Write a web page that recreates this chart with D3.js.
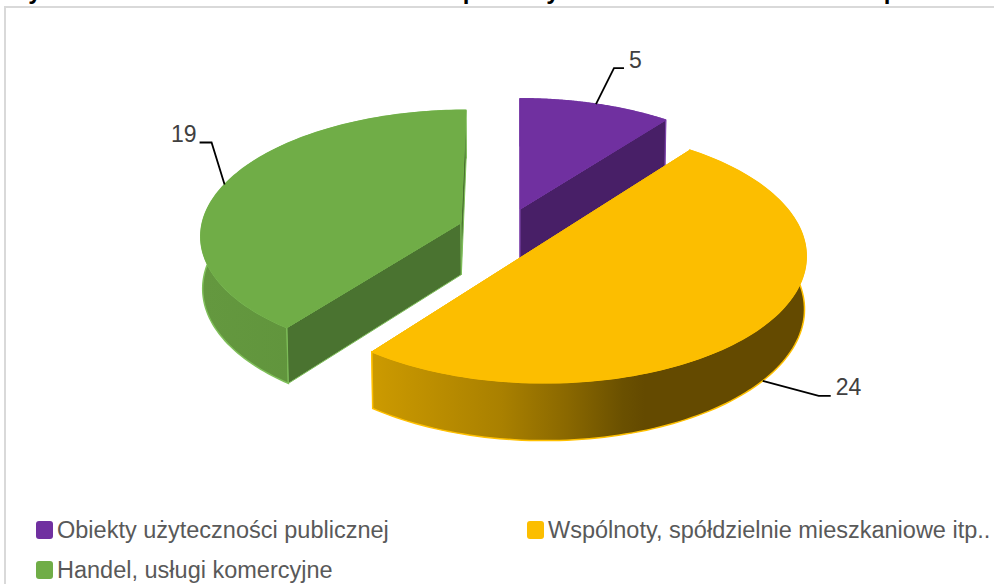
<!DOCTYPE html>
<html>
<head>
<meta charset="utf-8">
<script src="https://cdn.jsdelivr.net/npm/d3@7"></script>
<style>
  html, body { margin: 0; padding: 0; background: #fff; overflow: hidden; }
  text { font-family: "Liberation Sans", Arial, sans-serif; }
</style>
</head>
<body>
<div id="chart"></div>
<script>
// DATA
const categories = [
  "Obiekty użyteczności publicznej",
  "Wspólnoty, spółdzielnie mieszkaniowe itp..",
  "Handel, usługi komercyjne",
];
const values = [5, 24, 19];
const titleLetters = ["y", "p", "y", "p"];

// COLORS
const topColors = ["#7030A0", "#FCBE00", "#70AD47"];
const faceColors = ["#481F67", "#8F6C00", "#4A7330"];
const edgeColors = ["#7E45AC", "#FFC000", "#7FBF5A"];
const wallStops = [
  [["0%", "#481F67"], ["100%", "#481F67"]],
  [["0%", "#CC9A00"], ["30%", "#A98000"], ["45%", "#8A6800"], ["58%", "#6A5000"], ["63%", "#644A00"], ["100%", "#644A00"]],
  [["0%", "#64983F"], ["100%", "#5B8F38"]],
];

// LAYOUT
const WIDTH = 994;
const HEIGHT = 584;
const CENTER = { X: 505, Y: 230 };
const RADIUS = { X: 260, Y: 124 };
const VANISH_X = 520;
const PERSPECTIVE = 0.09;
const DEPTH = 52;
const TAPER = 0.006;
const EXPLODE = 0.18;
const labelAnchorDepth = [0, 1, 0];
const labelElbows = [[18, -36, 28], [56, 15, 68], [-13, -42, -25]];
const labelShift = [[5, -8, "start"], [5, -9, "start"], [-3, -9, "end"]];
const titleX = [35, 470, 553, 891];
const legendX = [36, 527, 36];
const legendY = [530, 530, 570];

const svg = d3
  .select("#chart")
  .append("svg")
  .attr("width", WIDTH)
  .attr("height", HEIGHT);

// SCALES (disc coordinates -1..1 to pixels)
const x = d3.scaleLinear().domain([-1, 1]).range([CENTER.X - RADIUS.X, CENTER.X + RADIUS.X]);
const y = d3.scaleLinear().domain([-1, 1]).range([CENTER.Y + RADIUS.Y, CENTER.Y - RADIUS.Y]);

function project(dx, dy, depth) {
  const w = 1 + PERSPECTIVE * dy;
  return [
    VANISH_X + ((x(dx) - VANISH_X) / w) * (1 - TAPER * depth),
    CENTER.Y + (y(dy) - CENTER.Y + depth * DEPTH) / w,
  ];
}

const line = d3.line();
const slices = d3.pie().sort(null).value((d) => d)(values);

function rimPoint(slice, angle, depth, radius = 1) {
  const mid = (slice.startAngle + slice.endAngle) / 2;
  return project(
    EXPLODE * Math.sin(mid) + radius * Math.sin(angle),
    EXPLODE * Math.cos(mid) + radius * Math.cos(angle),
    depth
  );
}

function rim(slice, depth) {
  return d3
    .range(0, 121)
    .map((i) => slice.startAngle + ((slice.endAngle - slice.startAngle) * i) / 120)
    .map((a) => rimPoint(slice, a, depth));
}

// FRAME
svg
  .append("path")
  .attr("d", line([[5, HEIGHT], [5, 7], [WIDTH, 7]]))
  .attr("fill", "none")
  .attr("stroke", "#D9D9D9")
  .attr("stroke-width", 2);

// TITLE (cut off by the top of the picture, only the descenders show)
svg
  .selectAll(".titleLetter")
  .data(titleLetters)
  .enter()
  .append("text")
  .attr("class", "titleLetter")
  .attr("x", (d, i) => titleX[i])
  .attr("y", -1)
  .attr("text-anchor", "middle")
  .attr("font-size", "24px")
  .attr("font-weight", "bold")
  .attr("fill", "#000")
  .text((d) => d);

// GRADIENTS
const defs = svg.append("defs");
slices.forEach((slice, i) => {
  const xs = rim(slice, 1).map((p) => p[0]);
  const gradient = defs
    .append("linearGradient")
    .attr("id", `wall${i}`)
    .attr("gradientUnits", "userSpaceOnUse")
    .attr("x1", d3.min(xs))
    .attr("x2", d3.max(xs))
    .attr("y1", 0)
    .attr("y2", 0);
  gradient
    .selectAll("stop")
    .data(wallStops[i])
    .enter()
    .append("stop")
    .attr("offset", (d) => d[0])
    .attr("stop-color", (d) => d[1]);
});

// SLICES (back to front)
[0, 2, 1].forEach((i) => {
  const slice = slices[i];
  const g = svg.append("g").attr("class", "slice");
  const hub = rimPoint(slice, 0, 0, 0);
  const hubLow = rimPoint(slice, 0, 1, 0);
  const top = rim(slice, 0);
  const low = rim(slice, 1);

  const drawFaces = () => {
    [0, 120].forEach((n) => {
      g.append("path")
        .attr("d", line([hub, top[n], low[n], hubLow]) + "Z")
        .attr("fill", faceColors[i])
        .attr("stroke", edgeColors[i])
        .attr("stroke-width", 1);
    });
  };

  // the yellow slice faces away, its cut faces stay behind the wall
  if (i === 1) drawFaces();

  // outer wall
  g.append("path")
    .attr("d", line(top.concat(low.slice().reverse())) + "Z")
    .attr("fill", `url(#wall${i})`)
    .attr("stroke", edgeColors[i])
    .attr("stroke-width", 1.5);

  if (i !== 1) drawFaces();

  // top face
  g.append("path")
    .attr("d", line([hub].concat(top)) + "Z")
    .attr("fill", topColors[i])
    .attr("stroke", topColors[i])
    .attr("stroke-width", 1);
});

// LEADERS AND VALUE LABELS
slices.forEach((slice, i) => {
  const mid = (slice.startAngle + slice.endAngle) / 2;
  const a = rimPoint(slice, mid, labelAnchorDepth[i]);
  const [ox, oy, ox2] = labelElbows[i];
  const end = [a[0] + ox2, a[1] + oy];
  svg
    .append("path")
    .attr("d", line([a, [a[0] + ox, a[1] + oy], end]))
    .attr("fill", "none")
    .attr("stroke", "#000")
    .attr("stroke-width", 1.8);
  svg
    .append("text")
    .attr("x", end[0] + labelShift[i][0])
    .attr("y", end[1] + labelShift[i][1])
    .attr("dy", "0.35em")
    .attr("text-anchor", labelShift[i][2])
    .attr("font-size", "23px")
    .attr("fill", "#404040")
    .text(values[i]);
});

// LEGEND
const legend = svg
  .selectAll(".legendItem")
  .data(categories)
  .enter()
  .append("g")
  .attr("class", "legendItem")
  .attr("transform", (d, i) => `translate(${legendX[i]}, ${legendY[i]})`);

legend
  .append("rect")
  .attr("x", 0)
  .attr("y", -9)
  .attr("width", 17)
  .attr("height", 18)
  .attr("rx", 3)
  .attr("fill", (d, i) => topColors[i]);

legend
  .append("text")
  .attr("x", 21)
  .attr("dy", "0.35em")
  .attr("font-size", "23.5px")
  .attr("fill", "#595959")
  .text((d) => d);
</script>
</body>
</html>
